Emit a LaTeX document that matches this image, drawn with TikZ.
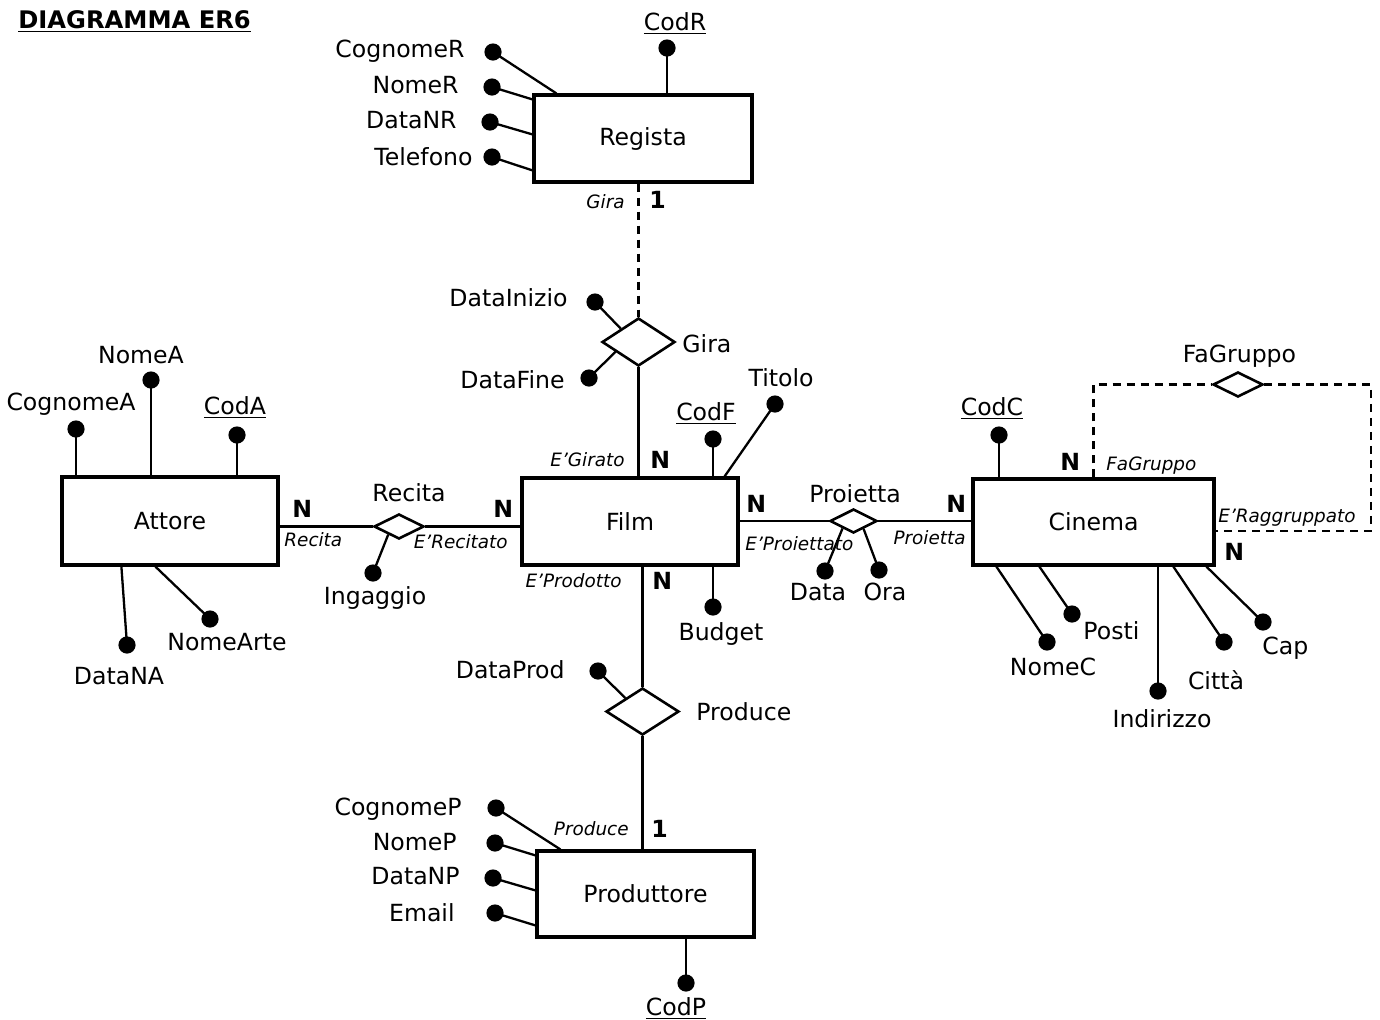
\documentclass[tikz,border=0pt]{standalone}
\usepackage{fontspec}
\setmainfont{DejaVu Sans}
\usepackage{tikz}
\usetikzlibrary{shapes.geometric}
\usetikzlibrary{calc}

\tikzset{
  entity/.style = {draw, rectangle, line width=1.6pt, inner sep=0pt,
                   font=\fontsize{11.8}{14}\selectfont},
  relship/.style = {draw, diamond, line width=1.3pt, inner sep=0pt},
  attrdot/.style = {circle, fill=black, inner sep=0pt, minimum size=8.6pt},
  txt/.style = {inner sep=0pt, font=\fontsize{11.8}{14}\selectfont},
  role/.style = {inner sep=0pt, font=\fontsize{9.2}{11}\selectfont\itshape},
  card/.style = {inner sep=0pt, font=\fontsize{11.8}{14}\selectfont\bfseries},
  conn/.style = {line width=1.15pt},
  dashconn/.style = {line width=1.2pt, dash pattern=on 4pt off 3pt}
}

\begin{document}
\begin{tikzpicture}[x=0.5pt, y=-0.5pt]
  \useasboundingbox (0,0) rectangle (1380,1019);

  % titolo
  \node[inner sep=0pt, anchor=base west, font=\fontsize{12.1}{14}\selectfont\bfseries]
    (titolo) at (18,28) {\underline{DIAGRAMMA ER6}};

  % entita'
  \node[entity, minimum width=109pt, minimum height=43.5pt] (regista) at (643,138.5) {Regista};
  \node[entity, minimum width=108pt, minimum height=43.5pt] (film) at (630,521.5) {Film};
  \node[entity, minimum width=108pt, minimum height=44pt] (attore) at (170,521) {Attore};
  \node[entity, minimum width=120.5pt, minimum height=43pt] (cinema) at (1093.5,522) {Cinema};
  \node[entity, minimum width=108.5pt, minimum height=43pt] (produttore) at (645.5,894) {Produttore};

  % relazioni
  \node[relship, minimum width=36.5pt, minimum height=24pt] (gira) at (638.5,342) {};
  \node[relship, minimum width=25pt, minimum height=12.5pt] (recita) at (399,526.5) {};
  \node[relship, minimum width=23.5pt, minimum height=12pt] (proietta) at (853.5,521) {};
  \node[relship, minimum width=36.5pt, minimum height=23.5pt] (produce) at (642.5,711.5) {};
  \node[relship, minimum width=25pt, minimum height=12.5pt] (fagruppo) at (1238,384.5) {};
  \coordinate (loopc) at (1371,531);

  \node[txt, anchor=base west] (lgira) at (682,352) {Gira};
  \node[txt, anchor=base] (lrecita) at (409,501) {Recita};
  \node[txt, anchor=base] (lproietta) at (855,502) {Proietta};
  \node[txt, anchor=base west] (lproduce) at (696,720) {Produce};
  \node[txt, anchor=base] (lfagruppo) at (1239.5,362) {FaGruppo};

  % collegamenti
  \draw[dashconn] (regista.south -| gira) -- (gira.north);
  \draw[conn] (gira.south) -- (gira.south |- film.north);
  \draw[conn] (produce.north |- film.south) -- (produce.north);
  \draw[conn] (produce.south) -- (produce.south |- produttore.north);
  \draw[conn] (recita -| attore.east) -- (recita.west);
  \draw[conn] (recita.east) -- (recita -| film.west);
  \draw[conn] (proietta -| film.east) -- (proietta.west);
  \draw[conn] (proietta.east) -- (proietta -| cinema.west);
  \draw[dashconn] (cinema.north) |- (fagruppo.west);
  \draw[dashconn] (fagruppo.east) -| (loopc) -- (loopc -| cinema.east);

  % ruoli e cardinalita'
  \node[role, anchor=base east] at (625,208) {Gira};
  \node[card, anchor=base west] at (649,208) {1};
  \node[role, anchor=base east] at (625,466) {E’Girato};
  \node[card, anchor=base west] at (650,468) {N};
  \node[card, anchor=base west] at (292,517) {N};
  \node[role, anchor=base west] at (284,546) {Recita};
  \node[card, anchor=base west] at (493,517) {N};
  \node[role, anchor=base east] at (508,548) {E’Recitato};
  \node[card, anchor=base west] at (746,512) {N};
  \node[role, anchor=base west] at (745,550) {E’Proiettato};
  \node[card, anchor=base west] at (946,512) {N};
  \node[role, anchor=base east] at (966,544) {Proietta};
  \node[role, anchor=base east] at (622,587) {E’Prodotto};
  \node[card, anchor=base west] at (652,589) {N};
  \node[role, anchor=base east] at (629,835) {Produce};
  \node[card, anchor=base west] at (651,837) {1};
  \node[card, anchor=base west] at (1060,470) {N};
  \node[role, anchor=base west] at (1106,470) {FaGruppo};
  \node[role, anchor=base west] at (1218,522) {E’Raggruppato};
  \node[card, anchor=base west] at (1224,560) {N};

  % attributi Regista
  \node[attrdot] (codR) at (667,48) {};
  \node[attrdot] (cognomeR) at (493,52) {};
  \node[attrdot] (nomeR) at (492,87) {};
  \node[attrdot] (dataNR) at (490,122) {};
  \node[attrdot] (telefono) at (492,157) {};
  \node[txt, anchor=base] at (675,30) {\underline{CodR}};
  \node[txt, anchor=base east] at (465,57) {CognomeR};
  \node[txt, anchor=base east] at (459,93) {NomeR};
  \node[txt, anchor=base east] at (457,128) {DataNR};
  \node[txt, anchor=base east] at (473,165) {Telefono};
  \draw[conn] (codR.center) -- (codR |- regista.north);
  \draw[conn] (cognomeR.center) -- ($(regista.north west)+(24,0)$);
  \draw[conn] (nomeR.center) -- ($(regista.north west)+(0,6)$);
  \draw[conn] (dataNR.center) -- ($(regista.north west)+(0,41)$);
  \draw[conn] (telefono.center) -- ($(regista.north west)+(0,77)$);

  % attributi Gira
  \node[attrdot] (dataInizio) at (595,302) {};
  \node[attrdot] (dataFine) at (589,378) {};
  \node[txt, anchor=base east] at (568,306) {DataInizio};
  \node[txt, anchor=base east] at (565,388) {DataFine};
  \draw[conn] (dataInizio.center) -- (gira.143);
  \draw[conn] (dataFine.center) -- (gira.203);

  % attributi Film
  \node[attrdot] (codF) at (713,439) {};
  \node[attrdot] (titolo) at (775,404) {};
  \node[attrdot] (budget) at (713,607) {};
  \node[txt, anchor=base] at (706,420) {\underline{CodF}};
  \node[txt, anchor=base] at (781,386) {Titolo};
  \node[txt, anchor=base] at (721,640) {Budget};
  \draw[conn] (codF.center) -- (codF |- film.north);
  \draw[conn] (titolo.center) -- ($(film.north east)+(-15,0)$);
  \draw[conn] (budget.center) -- (budget |- film.south);

  % attributi Attore
  \node[attrdot] (cognomeA) at (76,429) {};
  \node[attrdot] (nomeA) at (151,380) {};
  \node[attrdot] (codA) at (237,435) {};
  \node[attrdot] (dataNA) at (127,645) {};
  \node[attrdot] (nomeArte) at (210,619) {};
  \node[txt, anchor=base] at (71,410) {CognomeA};
  \node[txt, anchor=base] at (141,363) {NomeA};
  \node[txt, anchor=base] at (235,414) {\underline{CodA}};
  \node[txt, anchor=base] at (119,684) {DataNA};
  \node[txt, anchor=base] at (227,650) {NomeArte};
  \draw[conn] (cognomeA.center) -- (cognomeA |- attore.north);
  \draw[conn] (nomeA.center) -- (nomeA |- attore.north);
  \draw[conn] (codA.center) -- (codA |- attore.north);
  \draw[conn] (dataNA.center) -- ($(attore.south west)+(61,0)$);
  \draw[conn] (nomeArte.center) -- ($(attore.south west)+(95,0)$);

  % attributi Recita
  \node[attrdot] (ingaggio) at (373,573) {};
  \node[txt, anchor=base] at (375,604) {Ingaggio};
  \draw[conn] (ingaggio.center) -- (recita.217);

  % attributi Proietta
  \node[attrdot] (data) at (825,571) {};
  \node[attrdot] (ora) at (879,570) {};
  \node[txt, anchor=base] at (818,600) {Data};
  \node[txt, anchor=base] at (885,600) {Ora};
  \draw[conn] (data.center) -- (proietta.214);
  \draw[conn] (ora.center) -- (proietta.322);

  % attributi Cinema
  \node[attrdot] (codC) at (999,435) {};
  \node[attrdot] (nomeC) at (1047,642) {};
  \node[attrdot] (posti) at (1072,614) {};
  \node[attrdot] (indirizzo) at (1158,691) {};
  \node[attrdot] (citta) at (1224,642) {};
  \node[attrdot] (cap) at (1263,622) {};
  \node[txt, anchor=base] at (992,415) {\underline{CodC}};
  \node[txt, anchor=base] at (1053,675) {NomeC};
  \node[txt, anchor=base west] at (1083,639) {Posti};
  \node[txt, anchor=base] at (1162,727) {Indirizzo};
  \node[txt, anchor=base] at (1216,689) {Città};
  \node[txt, anchor=base west] at (1262,654) {Cap};
  \draw[conn] (codC.center) -- (codC |- cinema.north);
  \draw[conn] (nomeC.center) -- ($(cinema.south west)+(25,0)$);
  \draw[conn] (posti.center) -- ($(cinema.south west)+(68,0)$);
  \draw[conn] (indirizzo.center) -- (indirizzo |- cinema.south);
  \draw[conn] (citta.center) -- ($(cinema.south west)+(202,0)$);
  \draw[conn] (cap.center) -- ($(cinema.south west)+(235,0)$);

  % attributi Produce
  \node[attrdot] (dataProd) at (598,671) {};
  \node[txt, anchor=base east] at (565,678) {DataProd};
  \draw[conn] (dataProd.center) -- (produce.142);

  % attributi Produttore
  \node[attrdot] (cognomeP) at (496,808) {};
  \node[attrdot] (nomeP) at (495,843) {};
  \node[attrdot] (dataNP) at (493,878) {};
  \node[attrdot] (email) at (495,913) {};
  \node[attrdot] (codP) at (686,983) {};
  \node[txt, anchor=base east] at (462,815) {CognomeP};
  \node[txt, anchor=base east] at (457,850) {NomeP};
  \node[txt, anchor=base east] at (460,884) {DataNP};
  \node[txt, anchor=base east] at (455,921) {Email};
  \node[txt, anchor=base] at (676,1015) {\underline{CodP}};
  \draw[conn] (cognomeP.center) -- ($(produttore.north west)+(25,0)$);
  \draw[conn] (nomeP.center) -- ($(produttore.north west)+(0,6)$);
  \draw[conn] (dataNP.center) -- ($(produttore.north west)+(0,41)$);
  \draw[conn] (email.center) -- ($(produttore.north west)+(0,76)$);
  \draw[conn] (codP.center) -- (codP |- produttore.south);
\end{tikzpicture}
\end{document}
